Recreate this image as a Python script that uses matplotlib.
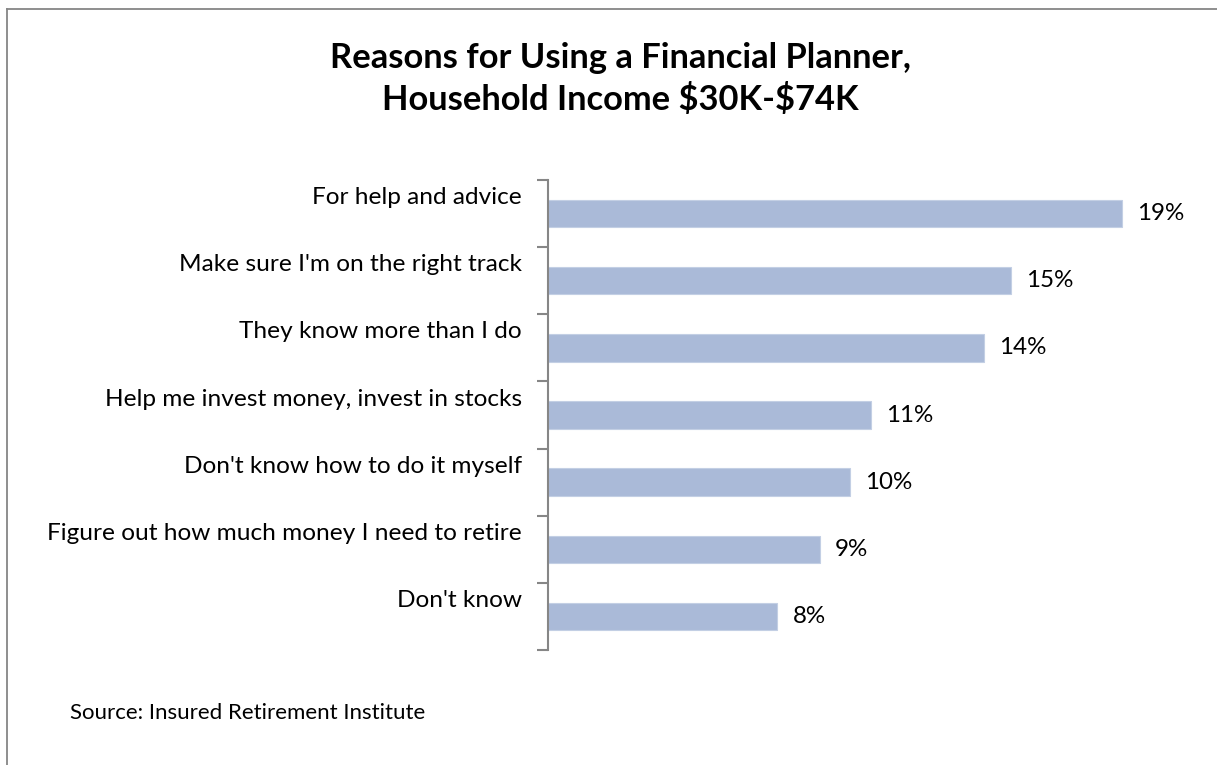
import matplotlib
matplotlib.use("Agg")
import matplotlib.pyplot as plt
from matplotlib.lines import Line2D

plt.rcParams['font.family'] = ['Lato', 'DejaVu Sans']

title = "Reasons for Using a Financial Planner,\nHousehold Income \\$30K-\\$74K"
categories = [
    "For help and advice",
    "Make sure I'm on the right track",
    "They know more than I do",
    "Help me invest money, invest in stocks",
    "Don't know how to do it myself",
    "Figure out how much money I need to retire",
    "Don't know",
]
shares = [19.0, 15.35, 14.45, 10.7, 10.0, 9.0, 7.6]
source = "Source: Insured Retirement Institute"

W, H = 1217, 765
fig = plt.figure(figsize=(W / 100, H / 100), dpi=100)

# plot area in pixel coordinates
left_px, right_px, top_px, bottom_px = 548, 1182, 180, 650
ax = fig.add_axes([left_px / W, 1 - bottom_px / H,
                   (right_px - left_px) / W, (bottom_px - top_px) / H])

grey = '#868686'
bar_color = '#AABAD8'
n = len(categories)
pos = list(range(n))
ax.barh(pos, shares, height=0.41, color=bar_color, edgecolor='#C3CFE4',
        linewidth=0.8)
ax.set_xlim(0, 21.0)
ax.set_ylim(n - 0.5, -0.5)

for s in ['top', 'right', 'bottom']:
    ax.spines[s].set_visible(False)
ax.spines['left'].set_color(grey)
ax.spines['left'].set_linewidth(1.5)
ax.set_xticks([])
ax.set_yticks([i - 0.5 for i in range(n + 1)])
ax.set_yticklabels([])
ax.tick_params(axis='y', direction='out', length=8, width=1.5, color=grey)

for i, (cat, v) in enumerate(zip(categories, shares)):
    ax.annotate(cat, xy=(0, i), xycoords=('axes fraction', 'data'),
                xytext=(-26, 16), textcoords='offset pixels',
                ha='right', va='center', fontsize=17.6, color='#000000')
    ax.annotate(f"{v:.0f}%", xy=(v, i), xycoords='data',
                xytext=(15, 0), textcoords='offset pixels',
                ha='left', va='center', fontsize=17.4, color='#000000')

fig.text(620 / W, 1 - 79 / H, title, ha='center', va='center',
         fontsize=24.8, fontweight='bold', linespacing=1.3)
fig.text(70 / W, 1 - 713 / H, source, ha='left', va='center', fontsize=16)

# frame around the chart (top and left edges)
fig.add_artist(Line2D([7 / W, 1.0], [1 - 9 / H, 1 - 9 / H], color=grey,
                      linewidth=1.3, transform=fig.transFigure))
fig.add_artist(Line2D([7 / W, 7 / W], [1 - 9 / H, 0.0], color=grey,
                      linewidth=1.3, transform=fig.transFigure))

fig.savefig('out.png', dpi=100)
